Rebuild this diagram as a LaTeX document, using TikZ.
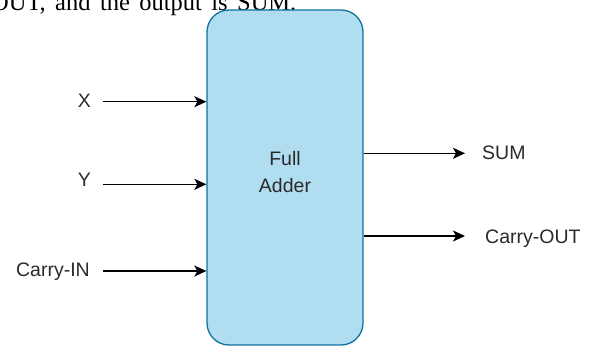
\documentclass[tikz,border=0pt]{standalone}
\usepackage{fontspec}
\setmainfont{Liberation Sans}
\newfontfamily\serifface{Liberation Serif}
\usetikzlibrary{arrows.meta}
\definecolor{boxfill}{HTML}{B1DDF0}
\definecolor{boxline}{HTML}{10739E}
\definecolor{txt}{HTML}{2A2A2A}
\begin{document}
\begin{tikzpicture}[x=1pt,y=-1pt,
  lab/.style={font=\fontsize{19.5}{27}\selectfont, text=txt, inner sep=0pt},
  arr/.style={draw=black, line width=1.5pt, -{Stealth[length=12pt,width=11pt,inset=3pt]}},
  blockbox/.style={draw=boxline, fill=boxfill, line width=1.3pt, rounded corners=22pt, inner sep=0pt}]
\useasboundingbox (0,0) rectangle (589,347);
\clip (0,0) rectangle (589,347);
\node[anchor=base west, inner sep=0pt, font=\serifface\fontsize{24.5}{28}\selectfont, text=black] (cap) at (-9,10.5) {\spaceskip=9.4pt OUT, and the output is SUM.};
\node[blockbox, minimum width=156pt, minimum height=335pt] (fa) at (285,177.5) {};
\node[lab, align=center] (fal) at (285,172.5) {Full\\Adder};
% inputs
\node[lab, anchor=base east] (x) at (91,108) {X};
\node[lab, anchor=base east] (y) at (91,186.7) {Y};
\node[lab, anchor=base east] (cin) at (90,276.5) {Carry-IN};
\coordinate (xs) at (103,101.7);
\coordinate (ys) at (103,184.3);
\coordinate (cs) at (103,271);
\draw[arr] (xs) -- (xs -| fa.west);
\draw[arr] (ys) -- (ys -| fa.west);
\draw[arr] (cs) -- (cs -| fa.west);
% outputs
\coordinate (se) at (465,153.3);
\coordinate (ce) at (465,236);
\draw[arr] (se -| fa.east) -- (se);
\draw[arr] (ce -| fa.east) -- (ce);
\node[lab, anchor=base west] (sum) at (482,160) {SUM};
\node[lab, anchor=base west] (cout) at (485,243.5) {Carry-OUT};
\end{tikzpicture}
\end{document}
